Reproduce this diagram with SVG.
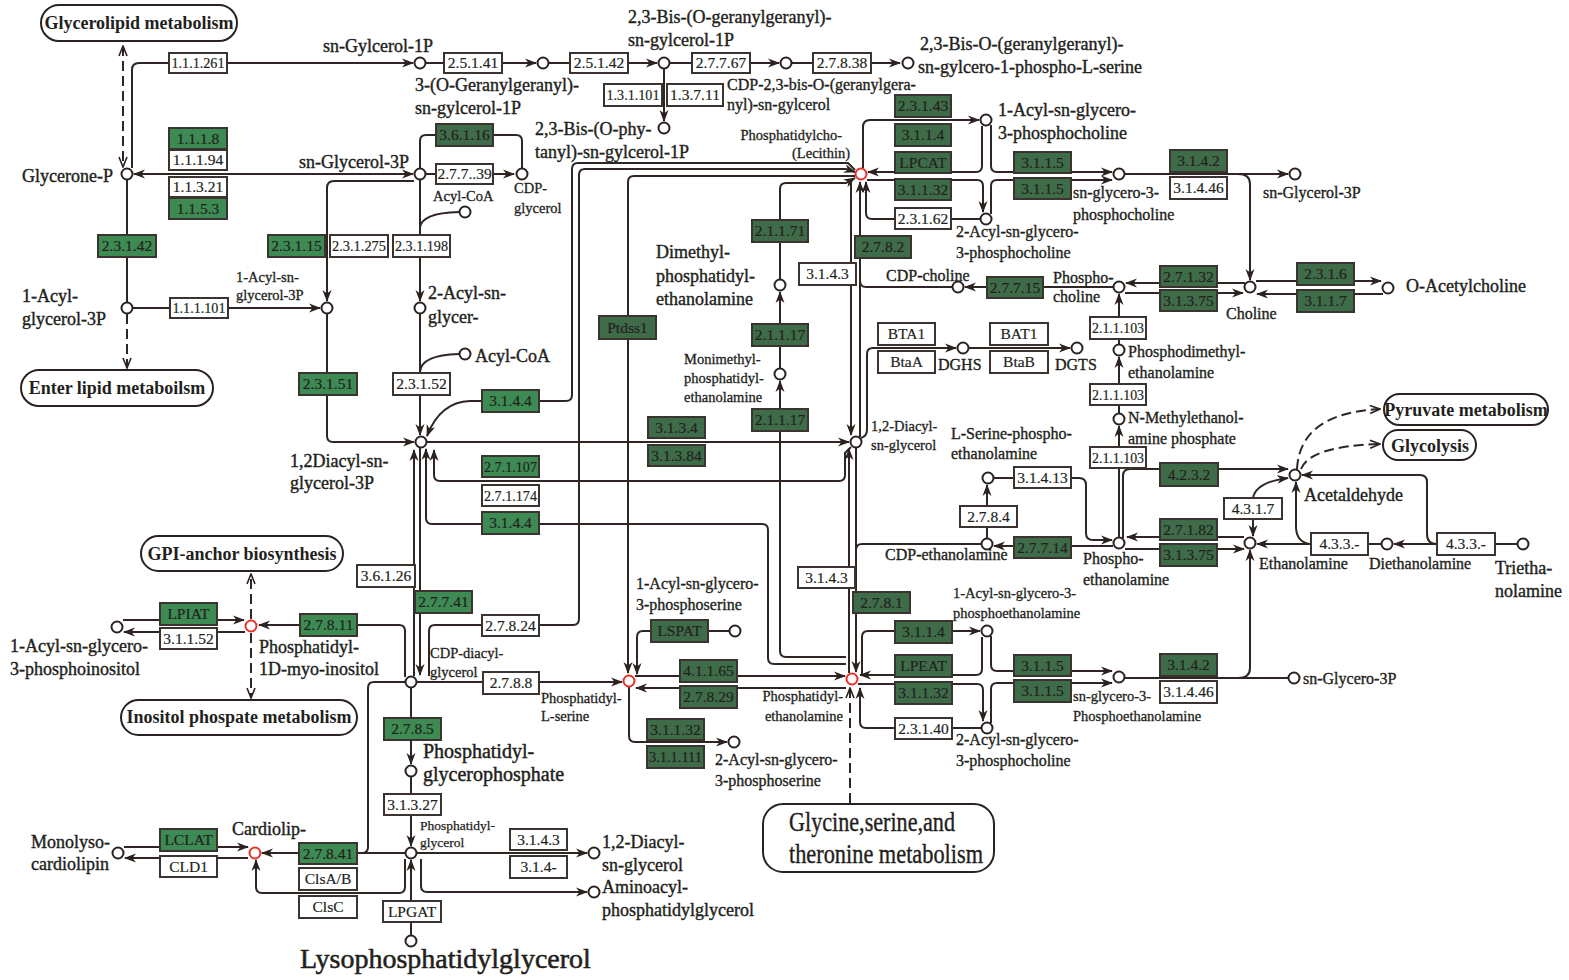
<svg xmlns="http://www.w3.org/2000/svg" width="1569" height="980" viewBox="0 0 1569 980">
<defs>
<style>
text{font-family:"Liberation Serif","Times New Roman",serif;fill:#231f20}
.L{font-size:18px;stroke:#231f20;stroke-width:.4px}
.M{font-size:16px;stroke:#231f20;stroke-width:.35px}
.S{font-size:14.5px;stroke:#231f20;stroke-width:.3px}
.bt{font-size:15.5px;text-anchor:middle;stroke:#231f20;stroke-width:.2px}
.w{fill:#fff;stroke:#3a3330;stroke-width:2}
.g1{fill:#3d8a53;stroke:#3a3330;stroke-width:2}
.g2{fill:#3f6c48;stroke:#3a3330;stroke-width:2}
.c{fill:#fff;stroke:#2a2220;stroke-width:2}
.cr{fill:#fff;stroke:#e8302a;stroke-width:2}
.ln path{fill:none;stroke:#2f2624;stroke-width:2}
.ar{marker-end:url(#a)}
.ab{marker-start:url(#a);marker-end:url(#a)}
.d{stroke-dasharray:10 5}
.op{marker-end:url(#o)}
.ob{marker-start:url(#o);marker-end:url(#o)}
.pw{fill:#fff;stroke:#2a2220;stroke-width:2}
.pt{font-size:18px;font-weight:bold;text-anchor:middle}
</style>
<marker id="a" viewBox="0 0 12 10" refX="11" refY="5" markerWidth="12" markerHeight="10" markerUnits="userSpaceOnUse" orient="auto-start-reverse"><path d="M0,0.5 L12,5 L0,9.5 L3.5,5 Z" fill="#2b2220"/></marker>
<marker id="o" viewBox="0 0 12 10" refX="11" refY="5" markerWidth="12" markerHeight="10" markerUnits="userSpaceOnUse" orient="auto-start-reverse"><path d="M1,1 L11,5 L1,9" fill="none" stroke="#2b2220" stroke-width="1.6"/></marker>
</defs>
<rect width="1569" height="980" fill="#fff"/>

<g id="connectors" class="ln">
<path class="ar" d="M132,168 V70 Q132,63 139,63 H413"/>
<path class="ar" d="M426,63 H536"/>
<path class="ar" d="M549,63 H657"/>
<path class="ar" d="M670,63 H779"/>
<path class="ar" d="M792,63 H900"/>
<path class="ar" d="M664,69 V121"/>
<path class="d ob" d="M123,46 V167"/>
<path class="ab" d="M134,174 H413"/>
<path class="ar" d="M414,181 H334 Q327,181 327,188 V301"/>
<path d="M127,180 V302"/>
<path class="ar" d="M133,308 H320"/>
<path class="d op" d="M127,314 V368"/>
<path class="ar" d="M420,180 V301"/>
<path d="M420,168 V141 Q420,135 426,135 H516 Q522,135 522,141 V168"/>
<path class="ar" d="M426,174 H514"/>
<path d="M420,228 Q421,213 459,212"/>
<path class="ar" d="M327,314 V436 Q327,442 333,442 H414"/>
<path class="ar" d="M420,314 V435"/>
<path d="M420,372 Q421,355 459,354"/>
<path class="ar" d="M855,170 L848,163 H578 Q572,163 572,169 V395 Q572,401 566,401 H470 Q440,402 427,436"/>
<path class="ar" d="M429,676 V631 Q429,625 435,625 H573 Q579,625 579,619 V175 Q579,169 585,169 H846 L855,172"/>
<path class="ar" d="M855,176 H634 Q628,176 628,182 V673"/>
<path class="ar" d="M780,279 V189 Q780,183 786,183 H846 L855,178"/>
<path class="ar" d="M780,368 V292"/>
<path class="ar" d="M846,657 H786 Q780,657 780,651 V381"/>
<path class="ar" d="M846,664 H774 Q768,664 768,658 V530 Q768,524 762,524 H432 Q426,524 426,518 V449"/>
<path class="ar" d="M851,447 L845,453 V475 Q845,481 839,481 H440 Q434,481 434,475 V450"/>
<path class="ar" d="M427,442 H849"/>
<path class="ar" d="M414,676 V450"/>
<path class="ar" d="M420,448 V675"/>
<path class="ar" d="M405,677 V631 Q405,625 399,625 H259"/>
<path class="ar" d="M123,620 H244"/>
<path class="ar" d="M245,632 H124"/>
<path class="d op" d="M251,619 V574"/>
<path class="d op" d="M251,633 V698"/>
<path class="ar" d="M417,682 H622"/>
<path class="ar" d="M729,631 H643 Q637,631 637,637 V674"/>
<path class="ar" d="M629,687 V736 Q629,742 635,742 H727"/>
<path class="ar" d="M635,676 H845"/>
<path class="ar" d="M846,688 H636"/>
<path class="ar" d="M411,688 V764"/>
<path class="ar" d="M411,777 V846"/>
<path class="ar" d="M417,853 H587"/>
<path class="ar" d="M421,859 V886 Q421,892 427,892 H587"/>
<path class="ar" d="M411,935 V860"/>
<path class="ar" d="M405,859 V887 Q405,893 399,893 H262 Q256,893 256,887 V860"/>
<path class="ar" d="M405,853 H262"/>
<path d="M406,682 H374 Q368,682 368,688 V847 Q368,853 362,853"/>
<path class="ar" d="M124,847 H248"/>
<path class="ar" d="M248,858 H125"/>
<path class="ar" d="M863,168 V127 Q863,120 870,120 H979"/>
<path class="ar" d="M982,126 V166 Q982,172 976,172 H868"/>
<path class="ar" d="M867,180 H977 Q983,180 983,186 V212"/>
<path class="ar" d="M980,219 H872 Q866,219 866,213 V182"/>
<path class="ar" d="M991,125 V166 Q991,172 997,172 H1112"/>
<path class="ar" d="M991,214 V186 Q991,180 997,180 H1112"/>
<path class="ar" d="M1125,174 H1288"/>
<path class="ar" d="M1238,174 Q1250,174 1250,184 V280"/>
<path class="ar" d="M1245,283 H1126"/>
<path class="ar" d="M1125,293 H1243"/>
<path class="ar" d="M1256,281 H1381"/>
<path class="ar" d="M1383,294 H1257"/>
<path class="ar" d="M1113,287 H965"/>
<path class="ar" d="M860,437 V182"/>
<path d="M952,287 H866 Q860,287 860,281"/>
<path class="ar" d="M851,180 V435"/>
<path class="ar" d="M861,438 Q867,436 867,430 V354 Q867,348 873,348 H956"/>
<path class="ar" d="M969,348 H1070"/>
<path class="ar" d="M1119,344 V294"/>
<path class="ar" d="M1119,413 V357"/>
<path class="ar" d="M1119,537 V426"/>
<path class="ar" d="M994,478 H1079 Q1086,478 1086,485 V533 Q1086,540 1093,540 H1112"/>
<path class="ar" d="M987,538 V485"/>
<path class="ar" d="M1113,546 H994"/>
<path class="ar" d="M1123,538 V476 Q1123,469 1130,469 H1288"/>
<path class="ar" d="M1244,537 H1127"/>
<path class="ar" d="M1125,549 H1244"/>
<path d="M1125,678 H1288"/>
<path class="ar" d="M1238,678 Q1250,678 1250,668 V550"/>
<path class="ar" d="M1381,544 H1257"/>
<path class="ar" d="M1311,544 Q1297,543 1296,528 V482"/>
<path class="ar" d="M1253,498 Q1256,482 1288,478"/>
<path class="ar" d="M1253,519 V536"/>
<path class="ar" d="M1517,544 H1394"/>
<path class="ar" d="M1437,544 Q1427,544 1427,534 V482 Q1427,475 1420,475 H1302"/>
<path class="d op" d="M1297,469 Q1300,413 1380,409"/>
<path class="d op" d="M1301,469 Q1310,446 1380,444"/>
<path class="ar" d="M856,448 V672"/>
<path d="M981,544 H862 Q856,544 856,550"/>
<path class="ar" d="M849,673 V449"/>
<path class="ar" d="M862,674 V637 Q862,631 868,631 H980"/>
<path class="ar" d="M982,637 V669 Q982,675 976,675 H860"/>
<path class="ar" d="M858,684 H977 Q983,684 983,690 V721"/>
<path class="ar" d="M981,728 H866 Q860,728 860,722 V688"/>
<path class="d op" d="M850,803 V688"/>
<path class="ar" d="M991,636 V665 Q991,671 997,671 H1112"/>
<path class="ar" d="M991,723 V689 Q991,683 997,683 H1112"/>
</g>

<!-- pathway boxes -->
<g id="p-glycerolipid"><rect class="pw" x="41" y="5" width="196" height="36" rx="18"/><text class="pt" x="139" y="29">Glycerolipid metabolism</text></g>
<g id="p-enterlipid"><rect class="pw" x="21" y="370" width="192" height="36" rx="18"/><text class="pt" x="117" y="394">Enter lipid metaboilsm</text></g>
<g id="p-gpi"><rect class="pw" x="141" y="536" width="202" height="35" rx="17.5"/><text class="pt" x="242" y="560">GPI-anchor biosynthesis</text></g>
<g id="p-inositol"><rect class="pw" x="121" y="700" width="236" height="35" rx="17.5"/><text class="pt" x="239" y="723">Inositol phospate metabolism</text></g>
<g id="p-pyruvate"><rect class="pw" x="1384" y="394" width="164" height="31" rx="15.5"/><text class="pt" x="1466" y="416">Pyruvate metabolism</text></g>
<g id="p-glycolysis"><rect class="pw" x="1383" y="430" width="93" height="30" rx="15"/><text class="pt" x="1430" y="452">Glycolysis</text></g>
<g id="p-glycine"><rect class="pw" x="763" y="804" width="231" height="68" rx="20"/><text x="789" y="831" font-size="28" textLength="166" lengthAdjust="spacingAndGlyphs" stroke="#231f20" stroke-width=".4">Glycine,serine,and</text><text x="789" y="863" font-size="28" textLength="194" lengthAdjust="spacingAndGlyphs" stroke="#231f20" stroke-width=".4">theronine metabolism</text></g>

<!-- compounds -->
<g id="c-snG1P"><circle class="c" cx="420" cy="63" r="5.5"/><text class="L" x="323" y="52">sn-Gylcerol-1P</text></g>
<g id="c-OGG"><circle class="c" cx="543" cy="63" r="5.5"/><text class="L" x="415" y="91">3-(O-Geranylgeranyl)-</text><text class="L" x="415" y="114">sn-gylcerol-1P</text></g>
<g id="c-bisGG"><circle class="c" cx="664" cy="63" r="5.5"/><text class="L" x="628" y="23">2,3-Bis-(O-geranylgeranyl)-</text><text class="L" x="628" y="46">sn-gylcerol-1P</text></g>
<g id="c-CDPbis"><circle class="c" cx="786" cy="63" r="5.5"/><text class="M" x="727" y="90">CDP-2,3-bis-O-(geranylgera-</text><text class="M" x="727" y="110">nyl)-sn-gylcerol</text></g>
<g id="c-bisGGser"><circle class="c" cx="908" cy="63" r="5.5"/><text class="L" x="920" y="50">2,3-Bis-O-(geranylgeranyl)-</text><text class="L" x="918" y="73">sn-gylcero-1-phospho-L-serine</text></g>
<g id="c-bisphy"><circle class="c" cx="664" cy="128" r="5.5"/><text class="L" x="535" y="135">2,3-Bis-(O-phy-</text><text class="L" x="535" y="158">tanyl)-sn-gylcerol-1P</text></g>
<g id="c-glyceroneP"><circle class="c" cx="127" cy="174" r="5.5"/><text class="L" x="22" y="182">Glycerone-P</text></g>
<g id="c-snG3P"><circle class="c" cx="420" cy="174" r="5.5"/><text class="L" x="299" y="168">sn-Glycerol-3P</text></g>
<g id="c-CDPglycerol"><circle class="c" cx="522" cy="174" r="5.5"/><text class="S" x="514" y="193">CDP-</text><text class="S" x="514" y="213">glycerol</text></g>
<g id="c-acylcoa1"><circle class="c" cx="465" cy="212" r="5.5"/><text class="S" x="433" y="201">Acyl-CoA</text></g>
<g id="c-acylglycerol3P"><circle class="c" cx="127" cy="308" r="5.5"/><text class="L" x="22" y="302">1-Acyl-</text><text class="L" x="22" y="325">glycerol-3P</text></g>
<g id="c-1acylsnG3P"><circle class="c" cx="327" cy="308" r="5.5"/><text class="S" x="236" y="282">1-Acyl-sn-</text><text class="S" x="236" y="300">glycerol-3P</text></g>
<g id="c-2acylsn"><circle class="c" cx="420" cy="308" r="5.5"/><text class="L" x="428" y="299">2-Acyl-sn-</text><text class="L" x="428" y="323">glycer-</text></g>
<g id="c-acylcoa2"><circle class="c" cx="465" cy="354" r="5.5"/><text class="L" x="475" y="362">Acyl-CoA</text></g>
<g id="c-PA"><circle class="c" cx="421" cy="442" r="5.5"/><text class="L" x="290" y="467">1,2Diacyl-sn-</text><text class="L" x="290" y="489">glycerol-3P</text></g>
<g id="c-PC"><circle class="cr" cx="861" cy="174" r="5.5"/><text class="S" x="842" y="140" text-anchor="end">Phosphatidylcho-</text><text class="S" x="850" y="158" text-anchor="end">(Lecithin)</text></g>
<g id="c-1acylGPC"><circle class="c" cx="986" cy="120" r="5.5"/><text class="L" x="998" y="116">1-Acyl-sn-glycero-</text><text class="L" x="998" y="139">3-phosphocholine</text></g>
<g id="c-2acylGPC"><circle class="c" cx="986" cy="219" r="5.5"/><text class="M" x="956" y="237">2-Acyl-sn-glycero-</text><text class="M" x="956" y="258">3-phosphocholine</text></g>
<g id="c-snGPC"><circle class="c" cx="1119" cy="174" r="5.5"/><text class="M" x="1073" y="198">sn-glycero-3-</text><text class="M" x="1073" y="220">phosphocholine</text></g>
<g id="c-snG3P-r"><circle class="c" cx="1295" cy="174" r="5.5"/><text class="M" x="1263" y="198">sn-Glycerol-3P</text></g>
<g id="c-choline"><circle class="c" cx="1250" cy="287" r="5.5"/><text class="M" x="1226" y="319">Choline</text></g>
<g id="c-oacetylcholine"><circle class="c" cx="1388" cy="288" r="5.5"/><text class="L" x="1406" y="292">O-Acetylcholine</text></g>
<g id="c-phosphocholine"><circle class="c" cx="1119" cy="287" r="5.5"/><text class="M" x="1053" y="283">Phospho-</text><text class="M" x="1053" y="302">choline</text></g>
<g id="c-CDPcholine"><circle class="c" cx="958" cy="287" r="5.5"/><text class="M" x="886" y="281">CDP-choline</text></g>
<g id="c-DMPE"><circle class="c" cx="780" cy="285" r="5.5"/><text class="L" x="656" y="258">Dimethyl-</text><text class="L" x="656" y="282">phosphatidyl-</text><text class="L" x="656" y="305">ethanolamine</text></g>
<g id="c-MMPE"><circle class="c" cx="780" cy="374" r="5.5"/><text class="S" x="684" y="364">Monimethyl-</text><text class="S" x="684" y="383">phosphatidyl-</text><text class="S" x="684" y="402">ethanolamine</text></g>
<g id="c-PDME"><circle class="c" cx="1119" cy="350" r="5.5"/><text class="M" x="1128" y="357">Phosphodimethyl-</text><text class="M" x="1128" y="378">ethanolamine</text></g>
<g id="c-DGHS"><circle class="c" cx="963" cy="348" r="5.5"/><text class="M" x="938" y="370">DGHS</text></g>
<g id="c-DGTS"><circle class="c" cx="1077" cy="348" r="5.5"/><text class="M" x="1055" y="370">DGTS</text></g>
<g id="c-NMe"><circle class="c" cx="1119" cy="419" r="5.5"/><text class="M" x="1128" y="423">N-Methylethanol-</text><text class="M" x="1128" y="444">amine phosphate</text></g>
<g id="c-DAG"><circle class="c" cx="856" cy="442" r="5.5"/><text class="S" x="871" y="431">1,2-Diacyl-</text><text class="S" x="871" y="450">sn-glycerol</text></g>
<g id="c-acetaldehyde"><circle class="c" cx="1295" cy="475" r="5.5"/><text class="L" x="1304" y="501">Acetaldehyde</text></g>
<g id="c-LSerPEtn"><circle class="c" cx="988" cy="478" r="5.5"/><text class="M" x="951" y="439">L-Serine-phospho-</text><text class="M" x="951" y="459">ethanolamine</text></g>
<g id="c-CDPeth"><circle class="c" cx="987" cy="544" r="5.5"/><text class="M" x="885" y="560">CDP-ethanolamine</text></g>
<g id="c-PEtn"><circle class="c" cx="1119" cy="543" r="5.5"/><text class="M" x="1083" y="564">Phospho-</text><text class="M" x="1083" y="585">ethanolamine</text></g>
<g id="c-ethanolamine"><circle class="c" cx="1250" cy="543" r="5.5"/><text class="M" x="1259" y="569">Ethanolamine</text></g>
<g id="c-diethanolamine"><circle class="c" cx="1387" cy="544" r="5.5"/><text class="M" x="1369" y="569">Diethanolamine</text></g>
<g id="c-triethanolamine"><circle class="c" cx="1523" cy="544" r="5.5"/><text class="L" x="1495" y="574">Trietha-</text><text class="L" x="1495" y="597">nolamine</text></g>
<g id="c-PI"><circle class="cr" cx="251" cy="626" r="5.5"/><text class="L" x="259" y="653">Phosphatidyl-</text><text class="L" x="259" y="675">1D-myo-inositol</text></g>
<g id="c-1acylPI"><circle class="c" cx="117" cy="627" r="5.5"/><text class="L" x="10" y="652">1-Acyl-sn-glycero-</text><text class="L" x="10" y="675">3-phosphoinositol</text></g>
<g id="c-1acylGPS"><circle class="c" cx="735" cy="631" r="5.5"/><text class="M" x="636" y="589">1-Acyl-sn-glycero-</text><text class="M" x="636" y="610">3-phosphoserine</text></g>
<g id="c-1acylGPE"><circle class="c" cx="987" cy="631" r="5.5"/><text class="S" x="953" y="598">1-Acyl-sn-glycero-3-</text><text class="S" x="953" y="618">phosphoethanolamine</text></g>
<g id="c-CDPDAG"><circle class="c" cx="411" cy="682" r="5.5"/><text class="S" x="430" y="658">CDP-diacyl-</text><text class="S" x="430" y="677">glycerol</text></g>
<g id="c-PS"><circle class="cr" cx="629" cy="681" r="5.5"/><text class="S" x="541" y="703">Phosphatidyl-</text><text class="S" x="541" y="721">L-serine</text></g>
<g id="c-PE"><circle class="cr" cx="852" cy="679" r="5.5"/><text class="S" x="843" y="701" text-anchor="end">Phosphatidyl-</text><text class="S" x="843" y="721" text-anchor="end">ethanolamine</text></g>
<g id="c-snGPE"><circle class="c" cx="1119" cy="677" r="5.5"/><text class="S" x="1073" y="701">sn-glycero-3-</text><text class="S" x="1073" y="721">Phosphoethanolamine</text></g>
<g id="c-snG3P-b"><circle class="c" cx="1294" cy="678" r="5.5"/><text class="M" x="1303" y="684">sn-Glycero-3P</text></g>
<g id="c-2acylGPC-b"><circle class="c" cx="987" cy="728" r="5.5"/><text class="M" x="956" y="745">2-Acyl-sn-glycero-</text><text class="M" x="956" y="766">3-phosphocholine</text></g>
<g id="c-2acylGPS"><circle class="c" cx="734" cy="742" r="5.5"/><text class="M" x="715" y="765">2-Acyl-sn-glycero-</text><text class="M" x="715" y="786">3-phosphoserine</text></g>
<g id="c-PGP"><circle class="c" cx="411" cy="771" r="5.5"/><text x="423" y="758" font-size="20" stroke="#231f20" stroke-width=".45">Phosphatidyl-</text><text x="423" y="781" font-size="20" stroke="#231f20" stroke-width=".45">glycerophosphate</text></g>
<g id="c-PG"><circle class="c" cx="411" cy="853" r="5.5"/><text x="420" y="830" font-size="13.5" stroke="#231f20" stroke-width=".25">Phosphatidyl-</text><text x="420" y="847" font-size="13.5" stroke="#231f20" stroke-width=".25">glycerol</text></g>
<g id="c-DAG-b"><circle class="c" cx="594" cy="853" r="5.5"/><text class="L" x="602" y="848">1,2-Diacyl-</text><text class="L" x="602" y="871">sn-glycerol</text></g>
<g id="c-aminoacylPG"><circle class="c" cx="594" cy="892" r="5.5"/><text class="L" x="602" y="893">Aminoacyl-</text><text class="L" x="602" y="916">phosphatidylglycerol</text></g>
<g id="c-LPG"><circle class="c" cx="411" cy="941" r="5.5"/><text x="300" y="968" font-size="28" stroke="#231f20" stroke-width=".55">Lysophosphatidylglycerol</text></g>
<g id="c-CL"><circle class="cr" cx="255" cy="853" r="5.5"/><text class="L" x="232" y="835">Cardiolip-</text></g>
<g id="c-MLCL"><circle class="c" cx="118" cy="853" r="5.5"/><text class="L" x="31" y="848">Monolyso-</text><text class="L" x="31" y="870">cardiolipin</text></g>

<!-- enzymes -->
<g id="e-1.1.1.261"><rect class="w" x="169" y="53" width="58" height="20"/><text class="bt" x="198" y="68" textLength="53" lengthAdjust="spacingAndGlyphs">1.1.1.261</text></g>
<g id="e-2.5.1.41"><rect class="w" x="444" y="53" width="58" height="20"/><text class="bt" x="473" y="68">2.5.1.41</text></g>
<g id="e-2.5.1.42"><rect class="w" x="570" y="53" width="58" height="20"/><text class="bt" x="599" y="68">2.5.1.42</text></g>
<g id="e-2.7.7.67"><rect class="w" x="692" y="53" width="58" height="20"/><text class="bt" x="721" y="68">2.7.7.67</text></g>
<g id="e-2.7.8.38"><rect class="w" x="813" y="53" width="58" height="20"/><text class="bt" x="842" y="68">2.7.8.38</text></g>
<g id="e-1.3.1.101"><rect class="w" x="604" y="84" width="58" height="22"/><text class="bt" x="633" y="100" textLength="53" lengthAdjust="spacingAndGlyphs">1.3.1.101</text></g>
<g id="e-1.3.7.11"><rect class="w" x="667" y="84" width="56" height="22"/><text class="bt" x="695" y="100">1.3.7.11</text></g>
<g id="e-1.1.1.8"><rect class="g1" x="169" y="128" width="58" height="21"/><text class="bt" x="198" y="144">1.1.1.8</text></g>
<g id="e-1.1.1.94"><rect class="w" x="169" y="150" width="58" height="20"/><text class="bt" x="198" y="165">1.1.1.94</text></g>
<g id="e-1.1.3.21"><rect class="w" x="169" y="177" width="58" height="20"/><text class="bt" x="198" y="192">1.1.3.21</text></g>
<g id="e-1.1.5.3"><rect class="g1" x="169" y="198" width="58" height="21"/><text class="bt" x="198" y="214">1.1.5.3</text></g>
<g id="e-3.6.1.16"><rect class="g2" x="436" y="124" width="57" height="22"/><text class="bt" x="464.5" y="140">3.6.1.16</text></g>
<g id="e-2.7.7.39"><rect class="w" x="436" y="164" width="57" height="20"/><text class="bt" x="464.5" y="179">2.7.7..39</text></g>
<g id="e-2.3.1.42"><rect class="g1" x="98" y="235" width="58" height="22"/><text class="bt" x="127" y="251">2.3.1.42</text></g>
<g id="e-2.3.1.15"><rect class="g1" x="268" y="235" width="57" height="22"/><text class="bt" x="296.5" y="251">2.3.1.15</text></g>
<g id="e-2.3.1.275"><rect class="w" x="330" y="235" width="58" height="22"/><text class="bt" x="359" y="251" textLength="54" lengthAdjust="spacingAndGlyphs">2.3.1.275</text></g>
<g id="e-2.3.1.198"><rect class="w" x="393" y="235" width="57" height="22"/><text class="bt" x="421.5" y="251" textLength="53" lengthAdjust="spacingAndGlyphs">2.3.1.198</text></g>
<g id="e-1.1.1.101"><rect class="w" x="170" y="298" width="58" height="20"/><text class="bt" x="199" y="313" textLength="53" lengthAdjust="spacingAndGlyphs">1.1.1.101</text></g>
<g id="e-2.3.1.51"><rect class="g1" x="299" y="373" width="58" height="22"/><text class="bt" x="328" y="389">2.3.1.51</text></g>
<g id="e-2.3.1.52"><rect class="w" x="393" y="373" width="57" height="22"/><text class="bt" x="421.5" y="389">2.3.1.52</text></g>
<g id="e-3.1.4.4a"><rect class="g1" x="482" y="390" width="57" height="22"/><text class="bt" x="510.5" y="406">3.1.4.4</text></g>
<g id="e-Ptdss1"><rect class="g2" x="599" y="316" width="57" height="23"/><text class="bt" x="627.5" y="333">Ptdss1</text></g>
<g id="e-2.1.1.71"><rect class="g2" x="752" y="220" width="56" height="22"/><text class="bt" x="780" y="236">2.1.1.71</text></g>
<g id="e-2.1.1.17a"><rect class="g2" x="752" y="324" width="56" height="22"/><text class="bt" x="780" y="340">2.1.1.17</text></g>
<g id="e-2.1.1.17b"><rect class="g2" x="752" y="409" width="56" height="22"/><text class="bt" x="780" y="425">2.1.1.17</text></g>
<g id="e-3.1.3.4"><rect class="g2" x="648" y="417" width="57" height="21"/><text class="bt" x="676.5" y="433">3.1.3.4</text></g>
<g id="e-3.1.3.84"><rect class="g2" x="648" y="445" width="57" height="21"/><text class="bt" x="676.5" y="461">3.1.3.84</text></g>
<g id="e-2.7.1.107"><rect class="g1" x="482" y="456" width="57" height="21"/><text class="bt" x="510.5" y="472" textLength="53" lengthAdjust="spacingAndGlyphs">2.7.1.107</text></g>
<g id="e-2.7.1.174"><rect class="w" x="482" y="485" width="57" height="21"/><text class="bt" x="510.5" y="501" textLength="53" lengthAdjust="spacingAndGlyphs">2.7.1.174</text></g>
<g id="e-3.1.4.4b"><rect class="g1" x="482" y="512" width="57" height="22"/><text class="bt" x="510.5" y="528">3.1.4.4</text></g>
<g id="e-2.3.1.43"><rect class="g2" x="895" y="95" width="56" height="22"/><text class="bt" x="923" y="111">2.3.1.43</text></g>
<g id="e-3.1.1.4a"><rect class="g2" x="895" y="124" width="56" height="22"/><text class="bt" x="923" y="140">3.1.1.4</text></g>
<g id="e-LPCAT"><rect class="g2" x="895" y="152" width="56" height="21"/><text class="bt" x="923" y="168">LPCAT</text></g>
<g id="e-3.1.1.32a"><rect class="g2" x="895" y="179" width="56" height="21"/><text class="bt" x="923" y="195">3.1.1.32</text></g>
<g id="e-2.3.1.62"><rect class="w" x="895" y="208" width="56" height="21"/><text class="bt" x="923" y="224">2.3.1.62</text></g>
<g id="e-2.7.8.2"><rect class="g2" x="855" y="236" width="56" height="22"/><text class="bt" x="883" y="252">2.7.8.2</text></g>
<g id="e-3.1.4.3a"><rect class="w" x="799" y="263" width="57" height="22"/><text class="bt" x="827.5" y="279">3.1.4.3</text></g>
<g id="e-3.1.1.5a"><rect class="g2" x="1014" y="152" width="57" height="21"/><text class="bt" x="1042.5" y="168">3.1.1.5</text></g>
<g id="e-3.1.1.5b"><rect class="g2" x="1014" y="178" width="57" height="21"/><text class="bt" x="1042.5" y="194">3.1.1.5</text></g>
<g id="e-3.1.4.2a"><rect class="g2" x="1170" y="150" width="57" height="22"/><text class="bt" x="1198.5" y="166">3.1.4.2</text></g>
<g id="e-3.1.4.46a"><rect class="w" x="1170" y="177" width="57" height="22"/><text class="bt" x="1198.5" y="193">3.1.4.46</text></g>
<g id="e-2.7.7.15"><rect class="g2" x="987" y="277" width="56" height="21"/><text class="bt" x="1015" y="293">2.7.7.15</text></g>
<g id="e-2.7.1.32"><rect class="g2" x="1160" y="266" width="57" height="21"/><text class="bt" x="1188.5" y="282">2.7.1.32</text></g>
<g id="e-3.1.3.75a"><rect class="g2" x="1160" y="290" width="57" height="21"/><text class="bt" x="1188.5" y="306">3.1.3.75</text></g>
<g id="e-2.3.1.6"><rect class="g2" x="1297" y="263" width="57" height="22"/><text class="bt" x="1325.5" y="279">2.3.1.6</text></g>
<g id="e-3.1.1.7"><rect class="g2" x="1297" y="290" width="57" height="22"/><text class="bt" x="1325.5" y="306">3.1.1.7</text></g>
<g id="e-2.1.1.103a"><rect class="w" x="1090" y="317" width="56" height="22"/><text class="bt" x="1118" y="333" textLength="52" lengthAdjust="spacingAndGlyphs">2.1.1.103</text></g>
<g id="e-BTA1"><rect class="w" x="878" y="323" width="57" height="22"/><text class="bt" x="906.5" y="339">BTA1</text></g>
<g id="e-BtaA"><rect class="w" x="878" y="351" width="57" height="22"/><text class="bt" x="906.5" y="367">BtaA</text></g>
<g id="e-BAT1"><rect class="w" x="990" y="323" width="58" height="22"/><text class="bt" x="1019" y="339">BAT1</text></g>
<g id="e-BtaB"><rect class="w" x="990" y="351" width="58" height="22"/><text class="bt" x="1019" y="367">BtaB</text></g>
<g id="e-2.1.1.103b"><rect class="w" x="1090" y="384" width="56" height="21"/><text class="bt" x="1118" y="400" textLength="52" lengthAdjust="spacingAndGlyphs">2.1.1.103</text></g>
<g id="e-2.1.1.103c"><rect class="w" x="1090" y="447" width="56" height="21"/><text class="bt" x="1118" y="463" textLength="52" lengthAdjust="spacingAndGlyphs">2.1.1.103</text></g>
<g id="e-3.1.4.13"><rect class="w" x="1014" y="467" width="57" height="21"/><text class="bt" x="1042.5" y="483">3.1.4.13</text></g>
<g id="e-4.2.3.2"><rect class="g2" x="1160" y="463" width="58" height="23"/><text class="bt" x="1189" y="480">4.2.3.2</text></g>
<g id="e-4.3.1.7"><rect class="w" x="1224" y="498" width="58" height="21"/><text class="bt" x="1253" y="514">4.3.1.7</text></g>
<g id="e-2.7.8.4"><rect class="w" x="960" y="506" width="57" height="21"/><text class="bt" x="988.5" y="522">2.7.8.4</text></g>
<g id="e-2.7.1.82"><rect class="g2" x="1160" y="519" width="57" height="21"/><text class="bt" x="1188.5" y="535">2.7.1.82</text></g>
<g id="e-3.1.3.75b"><rect class="g2" x="1160" y="544" width="57" height="22"/><text class="bt" x="1188.5" y="560">3.1.3.75</text></g>
<g id="e-2.7.7.14"><rect class="g2" x="1014" y="537" width="57" height="21"/><text class="bt" x="1042.5" y="553">2.7.7.14</text></g>
<g id="e-4.3.3.a"><rect class="w" x="1311" y="533" width="57" height="22"/><text class="bt" x="1339.5" y="549">4.3.3.-</text></g>
<g id="e-4.3.3.b"><rect class="w" x="1437" y="533" width="58" height="22"/><text class="bt" x="1466" y="549">4.3.3.-</text></g>
<g id="e-3.6.1.26"><rect class="w" x="357" y="565" width="58" height="22"/><text class="bt" x="386" y="581">3.6.1.26</text></g>
<g id="e-3.1.4.3b"><rect class="w" x="798" y="567" width="57" height="21"/><text class="bt" x="826.5" y="583">3.1.4.3</text></g>
<g id="e-2.7.8.1"><rect class="g2" x="853" y="592" width="57" height="21"/><text class="bt" x="881.5" y="608">2.7.8.1</text></g>
<g id="e-2.7.7.41"><rect class="g1" x="415" y="591" width="57" height="22"/><text class="bt" x="443.5" y="607">2.7.7.41</text></g>
<g id="e-LPIAT"><rect class="g1" x="160" y="603" width="57" height="22"/><text class="bt" x="188.5" y="619">LPIAT</text></g>
<g id="e-3.1.1.52"><rect class="w" x="160" y="628" width="57" height="21"/><text class="bt" x="188.5" y="644">3.1.1.52</text></g>
<g id="e-2.7.8.11"><rect class="g1" x="300" y="614" width="57" height="22"/><text class="bt" x="328.5" y="630">2.7.8.11</text></g>
<g id="e-2.7.8.24"><rect class="w" x="482" y="615" width="57" height="21"/><text class="bt" x="510.5" y="631">2.7.8.24</text></g>
<g id="e-LSPAT"><rect class="g2" x="651" y="620" width="57" height="22"/><text class="bt" x="679.5" y="636">LSPAT</text></g>
<g id="e-3.1.1.4b"><rect class="g2" x="895" y="621" width="57" height="22"/><text class="bt" x="923.5" y="637">3.1.1.4</text></g>
<g id="e-LPEAT"><rect class="g2" x="895" y="655" width="57" height="22"/><text class="bt" x="923.5" y="671">LPEAT</text></g>
<g id="e-3.1.1.32b"><rect class="g2" x="895" y="682" width="57" height="22"/><text class="bt" x="923.5" y="698">3.1.1.32</text></g>
<g id="e-2.3.1.40"><rect class="w" x="895" y="718" width="57" height="21"/><text class="bt" x="923.5" y="734">2.3.1.40</text></g>
<g id="e-3.1.1.5c"><rect class="g2" x="1014" y="655" width="57" height="21"/><text class="bt" x="1042.5" y="671">3.1.1.5</text></g>
<g id="e-3.1.1.5d"><rect class="g2" x="1014" y="680" width="57" height="22"/><text class="bt" x="1042.5" y="696">3.1.1.5</text></g>
<g id="e-3.1.4.2b"><rect class="g2" x="1160" y="654" width="57" height="22"/><text class="bt" x="1188.5" y="670">3.1.4.2</text></g>
<g id="e-3.1.4.46b"><rect class="w" x="1160" y="681" width="57" height="22"/><text class="bt" x="1188.5" y="697">3.1.4.46</text></g>
<g id="e-4.1.1.65"><rect class="g2" x="680" y="660" width="57" height="22"/><text class="bt" x="708.5" y="676">4.1.1.65</text></g>
<g id="e-2.7.8.29"><rect class="g2" x="680" y="686" width="57" height="22"/><text class="bt" x="708.5" y="702">2.7.8.29</text></g>
<g id="e-2.7.8.8"><rect class="w" x="483" y="672" width="56" height="22"/><text class="bt" x="511" y="688">2.7.8.8</text></g>
<g id="e-3.1.1.32c"><rect class="g2" x="647" y="719" width="57" height="21"/><text class="bt" x="675.5" y="735">3.1.1.32</text></g>
<g id="e-3.1.1.111"><rect class="g2" x="647" y="746" width="57" height="22"/><text class="bt" x="675.5" y="762" textLength="53" lengthAdjust="spacingAndGlyphs">3.1.1.111</text></g>
<g id="e-2.7.8.5"><rect class="g1" x="384" y="718" width="57" height="22"/><text class="bt" x="412.5" y="734">2.7.8.5</text></g>
<g id="e-3.1.3.27"><rect class="w" x="384" y="794" width="57" height="21"/><text class="bt" x="412.5" y="810">3.1.3.27</text></g>
<g id="e-3.1.4.3c"><rect class="w" x="510" y="829" width="57" height="21"/><text class="bt" x="538.5" y="845">3.1.4.3</text></g>
<g id="e-3.1.4-"><rect class="w" x="510" y="856" width="57" height="22"/><text class="bt" x="538.5" y="872">3.1.4-</text></g>
<g id="e-LCLAT"><rect class="g1" x="160" y="829" width="57" height="22"/><text class="bt" x="188.5" y="845">LCLAT</text></g>
<g id="e-CLD1"><rect class="w" x="160" y="856" width="57" height="21"/><text class="bt" x="188.5" y="872">CLD1</text></g>
<g id="e-2.7.8.41"><rect class="g1" x="299" y="843" width="58" height="21"/><text class="bt" x="328" y="859">2.7.8.41</text></g>
<g id="e-ClsAB"><rect class="w" x="299" y="868" width="58" height="22"/><text class="bt" x="328" y="884">ClsA/B</text></g>
<g id="e-ClsC"><rect class="w" x="299" y="896" width="58" height="22"/><text class="bt" x="328" y="912">ClsC</text></g>
<g id="e-LPGAT"><rect class="w" x="383" y="901" width="58" height="21"/><text class="bt" x="412" y="917">LPGAT</text></g>
</svg>
